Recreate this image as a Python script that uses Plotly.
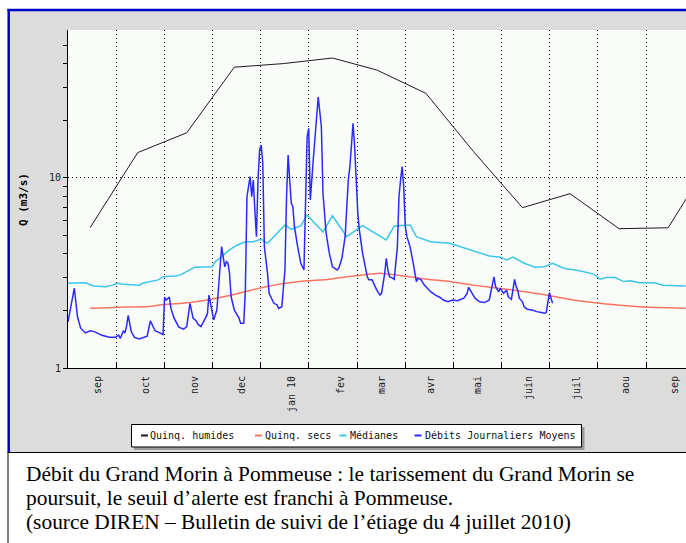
import numpy as np
import pandas as pd
import plotly.graph_objects as go

ORIGIN = pd.Timestamp("2009-09-01")

# ---- data (x = days since 2009-09-01, y = Q in m3/s) ----
daily_day = [0, 4, 6, 8, 11, 14, 17, 21, 26, 30, 32, 33, 35, 36, 37, 38, 40, 42, 45, 48,
             50, 52, 53, 55, 58, 60, 61, 62, 64, 65, 67, 70, 73, 75, 77, 79, 81, 82, 84, 86,
             88, 89, 91, 92, 94, 96, 97, 98, 99, 100, 101, 102, 103, 105, 108, 109, 111, 112, 113, 114,
             115, 116, 117, 118, 119, 120, 121, 122, 123, 124, 126, 127, 130, 132, 133, 135, 137, 138, 139, 140,
             141, 142, 143, 145, 147, 149, 150, 151, 152, 153, 155, 157, 158, 160, 161, 163, 165, 167, 170, 171,
             173, 175, 176, 177, 178, 179, 180, 181, 182, 183, 184, 186, 189, 190, 192, 194, 195, 197, 198, 200,
             201, 202, 203, 205, 206, 208, 209, 210, 211, 212, 213, 214, 216, 218, 220, 221, 223, 225, 229, 232,
             235, 237, 240, 243, 246, 250, 252, 253, 255, 257, 260, 263, 266, 268, 269, 270, 272, 273, 275, 277,
             278, 280, 281, 282, 283, 284, 285, 287, 288, 290, 293, 296, 299, 301, 302, 303, 304, 305, 306]
daily_q = [1.75, 2.63, 1.86, 1.62, 1.53, 1.57, 1.55, 1.49, 1.45, 1.45, 1.49, 1.43, 1.57, 1.53, 1.66, 1.89, 1.55, 1.45, 1.42, 1.45,
           1.47, 1.77, 1.70, 1.57, 1.53, 1.50, 2.36, 2.28, 2.36, 2.06, 1.83, 1.64, 1.60, 1.65, 2.19, 1.83, 1.77, 1.70, 1.65, 1.79,
           1.92, 2.42, 2.02, 1.79, 2.02, 3.28, 4.35, 3.85, 3.41, 3.63, 3.56, 3.15, 2.37, 2.02, 1.83, 1.72, 1.72, 2.57, 7.97, 9.00,
           10.16, 7.97, 9.76, 6.79, 4.91, 9.76, 14.04, 14.92, 11.95, 4.35, 3.15, 2.47, 2.19, 2.15, 2.06, 2.10, 3.28, 7.97, 13.22, 9.76,
           7.36, 7.06, 5.54, 4.35, 3.56, 3.28, 7.97, 16.5, 18.26, 7.66, 12.9, 20.2, 26.7, 18.62, 8.31, 5.12, 4.02, 3.41, 3.28, 3.35,
           3.79, 4.91, 7.06, 9.76, 11.47, 14.61, 19.41, 14.61, 9.76, 6.52, 5.32, 4.02, 3.02, 2.91, 2.91, 2.68, 2.57, 2.42, 2.47, 3.15,
           3.78, 3.28, 3.02, 2.97, 2.93, 4.35, 7.97, 9.76, 11.47, 9.00, 5.54, 4.91, 4.35, 3.56, 2.85, 2.97, 2.91, 2.73, 2.52, 2.42,
           2.35, 2.28, 2.23, 2.28, 2.26, 2.33, 2.47, 2.66, 2.47, 2.33, 2.23, 2.21, 2.28, 2.68, 3.02, 2.68, 2.52, 2.63, 2.47, 2.57,
           2.37, 2.30, 2.57, 2.93, 2.68, 2.57, 2.33, 2.23, 2.10, 2.04, 2.02, 1.98, 1.96, 1.94, 1.96, 2.19, 2.49, 2.33, 2.19]

median_day = [0, 11, 16, 24, 28, 31, 35, 45, 47, 53, 57, 60, 68, 71, 75, 80, 91, 93, 97, 102,
              107, 112, 117, 122, 126, 132, 137, 141, 147, 151, 155, 161, 167, 176, 186, 201, 206, 216, 220, 229,
              241, 254, 266, 273, 277, 281, 288, 295, 301, 306, 313, 323, 332, 336, 340, 345, 351, 355, 361, 370,
              376, 390]
median_q = [2.79, 2.81, 2.70, 2.68, 2.73, 2.79, 2.76, 2.73, 2.79, 2.85, 2.91, 3.02, 3.05, 3.09, 3.21, 3.39, 3.41, 3.63, 3.85, 4.18,
            4.44, 4.62, 4.62, 4.76, 4.53, 5.12, 5.66, 5.37, 5.59, 6.39, 5.89, 5.20, 6.33, 4.91, 5.61, 4.72, 5.59, 5.66, 4.91, 4.62,
            4.53, 4.18, 3.89, 3.83, 3.70, 3.83, 3.56, 3.39, 3.41, 3.56, 3.35, 3.25, 3.12, 2.93, 2.99, 3.00, 2.85, 2.88, 2.81, 2.81,
            2.73, 2.70]

dry_day = [14, 31, 49, 59, 72, 85, 95, 104, 125, 146, 165, 176, 191, 197, 212, 227, 241, 256, 277, 298, 319, 340, 361, 390]
dry_q = [2.06, 2.09, 2.10, 2.15, 2.19, 2.26, 2.34, 2.43, 2.68, 2.85, 2.93, 3.02, 3.12, 3.15, 3.05, 2.93, 2.85, 2.73, 2.60, 2.45,
         2.28, 2.17, 2.10, 2.06]

wet_day = [14, 44, 75, 105, 136, 167, 195, 226, 256, 287, 317, 348, 379, 409]
wet_q = [5.48, 13.6, 17.3, 38.3, 40.0, 42.8, 37.0, 27.9, 13.8, 6.98, 8.27, 5.41, 5.47, 13.8]

month_labels = ["sep", "oct", "nov", "dec", "jan 10", "fev", "mar", "avr", "mai", "juin", "juil", "aou", "sep"]
month_label_dates = ["2009-09-20", "2009-10-20", "2009-11-20", "2009-12-20", "2010-01-20", "2010-02-20",
                     "2010-03-18", "2010-04-18", "2010-05-18", "2010-06-19", "2010-07-19", "2010-08-19", "2010-09-19"]

y_tick_vals = [1, 10]
y_tick_text = ["1", "10"]
y_minor_vals = [2, 3, 4, 5, 6, 7, 8, 9, 20, 30, 40, 50]

series_names = ["Quinq. humides", "Quinq. secs", "Médianes", "Débits Journaliers Moyens"]
series_colors = ["#1a1a1a", "#f77560", "#3cc6e8", "#2a2aff"]

caption_lines = [
    "Débit du Grand Morin à Pommeuse : le tarissement du Grand Morin se",
    "poursuit, le seuil d’alerte est franchi à Pommeuse.",
    "(source DIREN – Bulletin de suivi de l’étiage du 4 juillet 2010)",
]


def to_dates(days):
    return [ORIGIN + pd.Timedelta(days=float(d)) for d in days]


W, H = 686, 543
L, R, T, B = 68, 686, 30, 368


def px_x(px):
    return (px - L) / (R - L)


def px_y(py):
    return (B - py) / (B - T)


MONO = "DejaVu Sans Mono"
DOTS = "1px,3px"
x_range = [ORIGIN, ORIGIN + pd.Timedelta(days=390.25)]
grid_vals = [ORIGIN + pd.Timedelta(days=365 / 12 * k) for k in range(14)]

fig = go.Figure()
fig.add_trace(go.Scatter(x=to_dates(dry_day), y=dry_q, mode="lines", name=series_names[1],
                         line=dict(color=series_colors[1], width=1.5, shape="spline", smoothing=0.6),
                         showlegend=False))
fig.add_trace(go.Scatter(x=to_dates(median_day), y=median_q, mode="lines", name=series_names[2],
                         line=dict(color=series_colors[2], width=1.5), showlegend=False))
fig.add_trace(go.Scatter(x=to_dates(daily_day), y=daily_q, mode="lines", name=series_names[3],
                         line=dict(color=series_colors[3], width=1.5), showlegend=False))
fig.add_trace(go.Scatter(x=to_dates(wet_day), y=wet_q, mode="lines", name=series_names[0],
                         line=dict(color=series_colors[0], width=1), showlegend=False,
                         xaxis="x2", yaxis="y"))

shapes = []
# grey panel and plot background
shapes.append(dict(type="rect", xref="paper", yref="paper", layer="below",
                   x0=px_x(9), x1=px_x(720), y0=px_y(452), y1=px_y(10),
                   fillcolor="#dcdcdc", line=dict(width=0)))
shapes.append(dict(type="rect", xref="paper", yref="paper", layer="below",
                   x0=0, x1=px_x(720), y0=0, y1=1, fillcolor="#fafcfa", line=dict(width=0)))
# blue frame
shapes.append(dict(type="line", xref="paper", yref="paper", x0=px_x(7.5), x1=px_x(720),
                   y0=px_y(10), y1=px_y(10), line=dict(color="#0000c8", width=2.5)))
shapes.append(dict(type="line", xref="paper", yref="paper", x0=px_x(8.7), x1=px_x(8.7),
                   y0=px_y(9), y1=px_y(452), line=dict(color="#0000c8", width=2.5)))
# caption frame
shapes.append(dict(type="line", xref="paper", yref="paper", x0=px_x(7.5), x1=px_x(720),
                   y0=px_y(452.5), y1=px_y(452.5), line=dict(color="black", width=1)))
shapes.append(dict(type="line", xref="paper", yref="paper", x0=px_x(8), x1=px_x(8),
                   y0=px_y(452), y1=px_y(560), line=dict(color="black", width=1)))
# legend box with shadow
shapes.append(dict(type="rect", xref="paper", yref="paper", x0=px_x(134), x1=px_x(584.5),
                   y0=px_y(450), y1=px_y(427), fillcolor="#999999", line=dict(width=0)))
shapes.append(dict(type="rect", xref="paper", yref="paper", x0=px_x(131.5), x1=px_x(581.5),
                   y0=px_y(447), y1=px_y(424.5), fillcolor="white", line=dict(color="black", width=1)))

legend_sample_x = [141, 255, 339.5, 414.5]
legend_text_x = [148, 263, 348, 423]
annotations = []
for name, color, sx, tx in zip(series_names, series_colors, legend_sample_x, legend_text_x):
    shapes.append(dict(type="line", xref="paper", yref="paper", x0=px_x(sx), x1=px_x(sx + 7),
                       y0=px_y(435.5), y1=px_y(435.5), line=dict(color=color, width=2)))
    annotations.append(dict(xref="paper", yref="paper", x=px_x(tx), y=px_y(435.5), text=name,
                            showarrow=False, xanchor="left", yanchor="middle",
                            font=dict(family=MONO, size=10, color="#111111")))

# y-axis title
annotations.append(dict(xref="paper", yref="paper", x=px_x(23), y=px_y(200), text="<b>Q (m3/s)</b>",
                        textangle=-90, showarrow=False, xanchor="center", yanchor="middle",
                        font=dict(family=MONO, size=11, color="black")))

# caption
for i, line in enumerate(caption_lines):
    annotations.append(dict(xref="paper", yref="paper", x=px_x(24), y=px_y(474 + 24 * i), text=line,
                            showarrow=False, xanchor="left", yanchor="middle",
                            font=dict(family="Liberation Serif", size=21.4, color="black")))

fig.update_layout(
    width=W, height=H,
    margin=dict(l=L, r=W - R, t=T, b=H - B, pad=0),
    paper_bgcolor="white",
    plot_bgcolor="#fafcfa",
    showlegend=False,
    shapes=shapes,
    annotations=annotations,
    xaxis=dict(type="date", range=x_range, tickvals=grid_vals, showticklabels=False,
               ticks="inside", ticklen=6, tickcolor="black", tickwidth=1,
               showgrid=True, gridcolor="black", gridwidth=1, griddash=DOTS,
               showline=True, linecolor="black", linewidth=1, zeroline=False),
    xaxis2=dict(type="date", range=x_range, overlaying="x", anchor="y", side="bottom",
                tickvals=month_label_dates, ticktext=month_labels, tickangle=-90,
                ticks="", showgrid=False, showline=False, zeroline=False,
                tickfont=dict(family=MONO, size=10, color="#222222"), ticklabelstandoff=5),
    yaxis=dict(type="log", range=[0, np.log10(60.1)], tickvals=y_tick_vals, ticktext=y_tick_text,
               ticks="outside", ticklen=4, tickcolor="black", tickwidth=1,
               showgrid=True, gridcolor="black", gridwidth=1, griddash=DOTS,
               showline=True, linecolor="black", linewidth=1, zeroline=False,
               tickfont=dict(family=MONO, size=10, color="#222222"),
               minor=dict(tickvals=y_minor_vals, ticks="outside", ticklen=4, tickcolor="black", showgrid=False)),
)

fig.write_html("out.html", config={"displayModeBar": False},
               post_script="document.body.style.margin='0';")
